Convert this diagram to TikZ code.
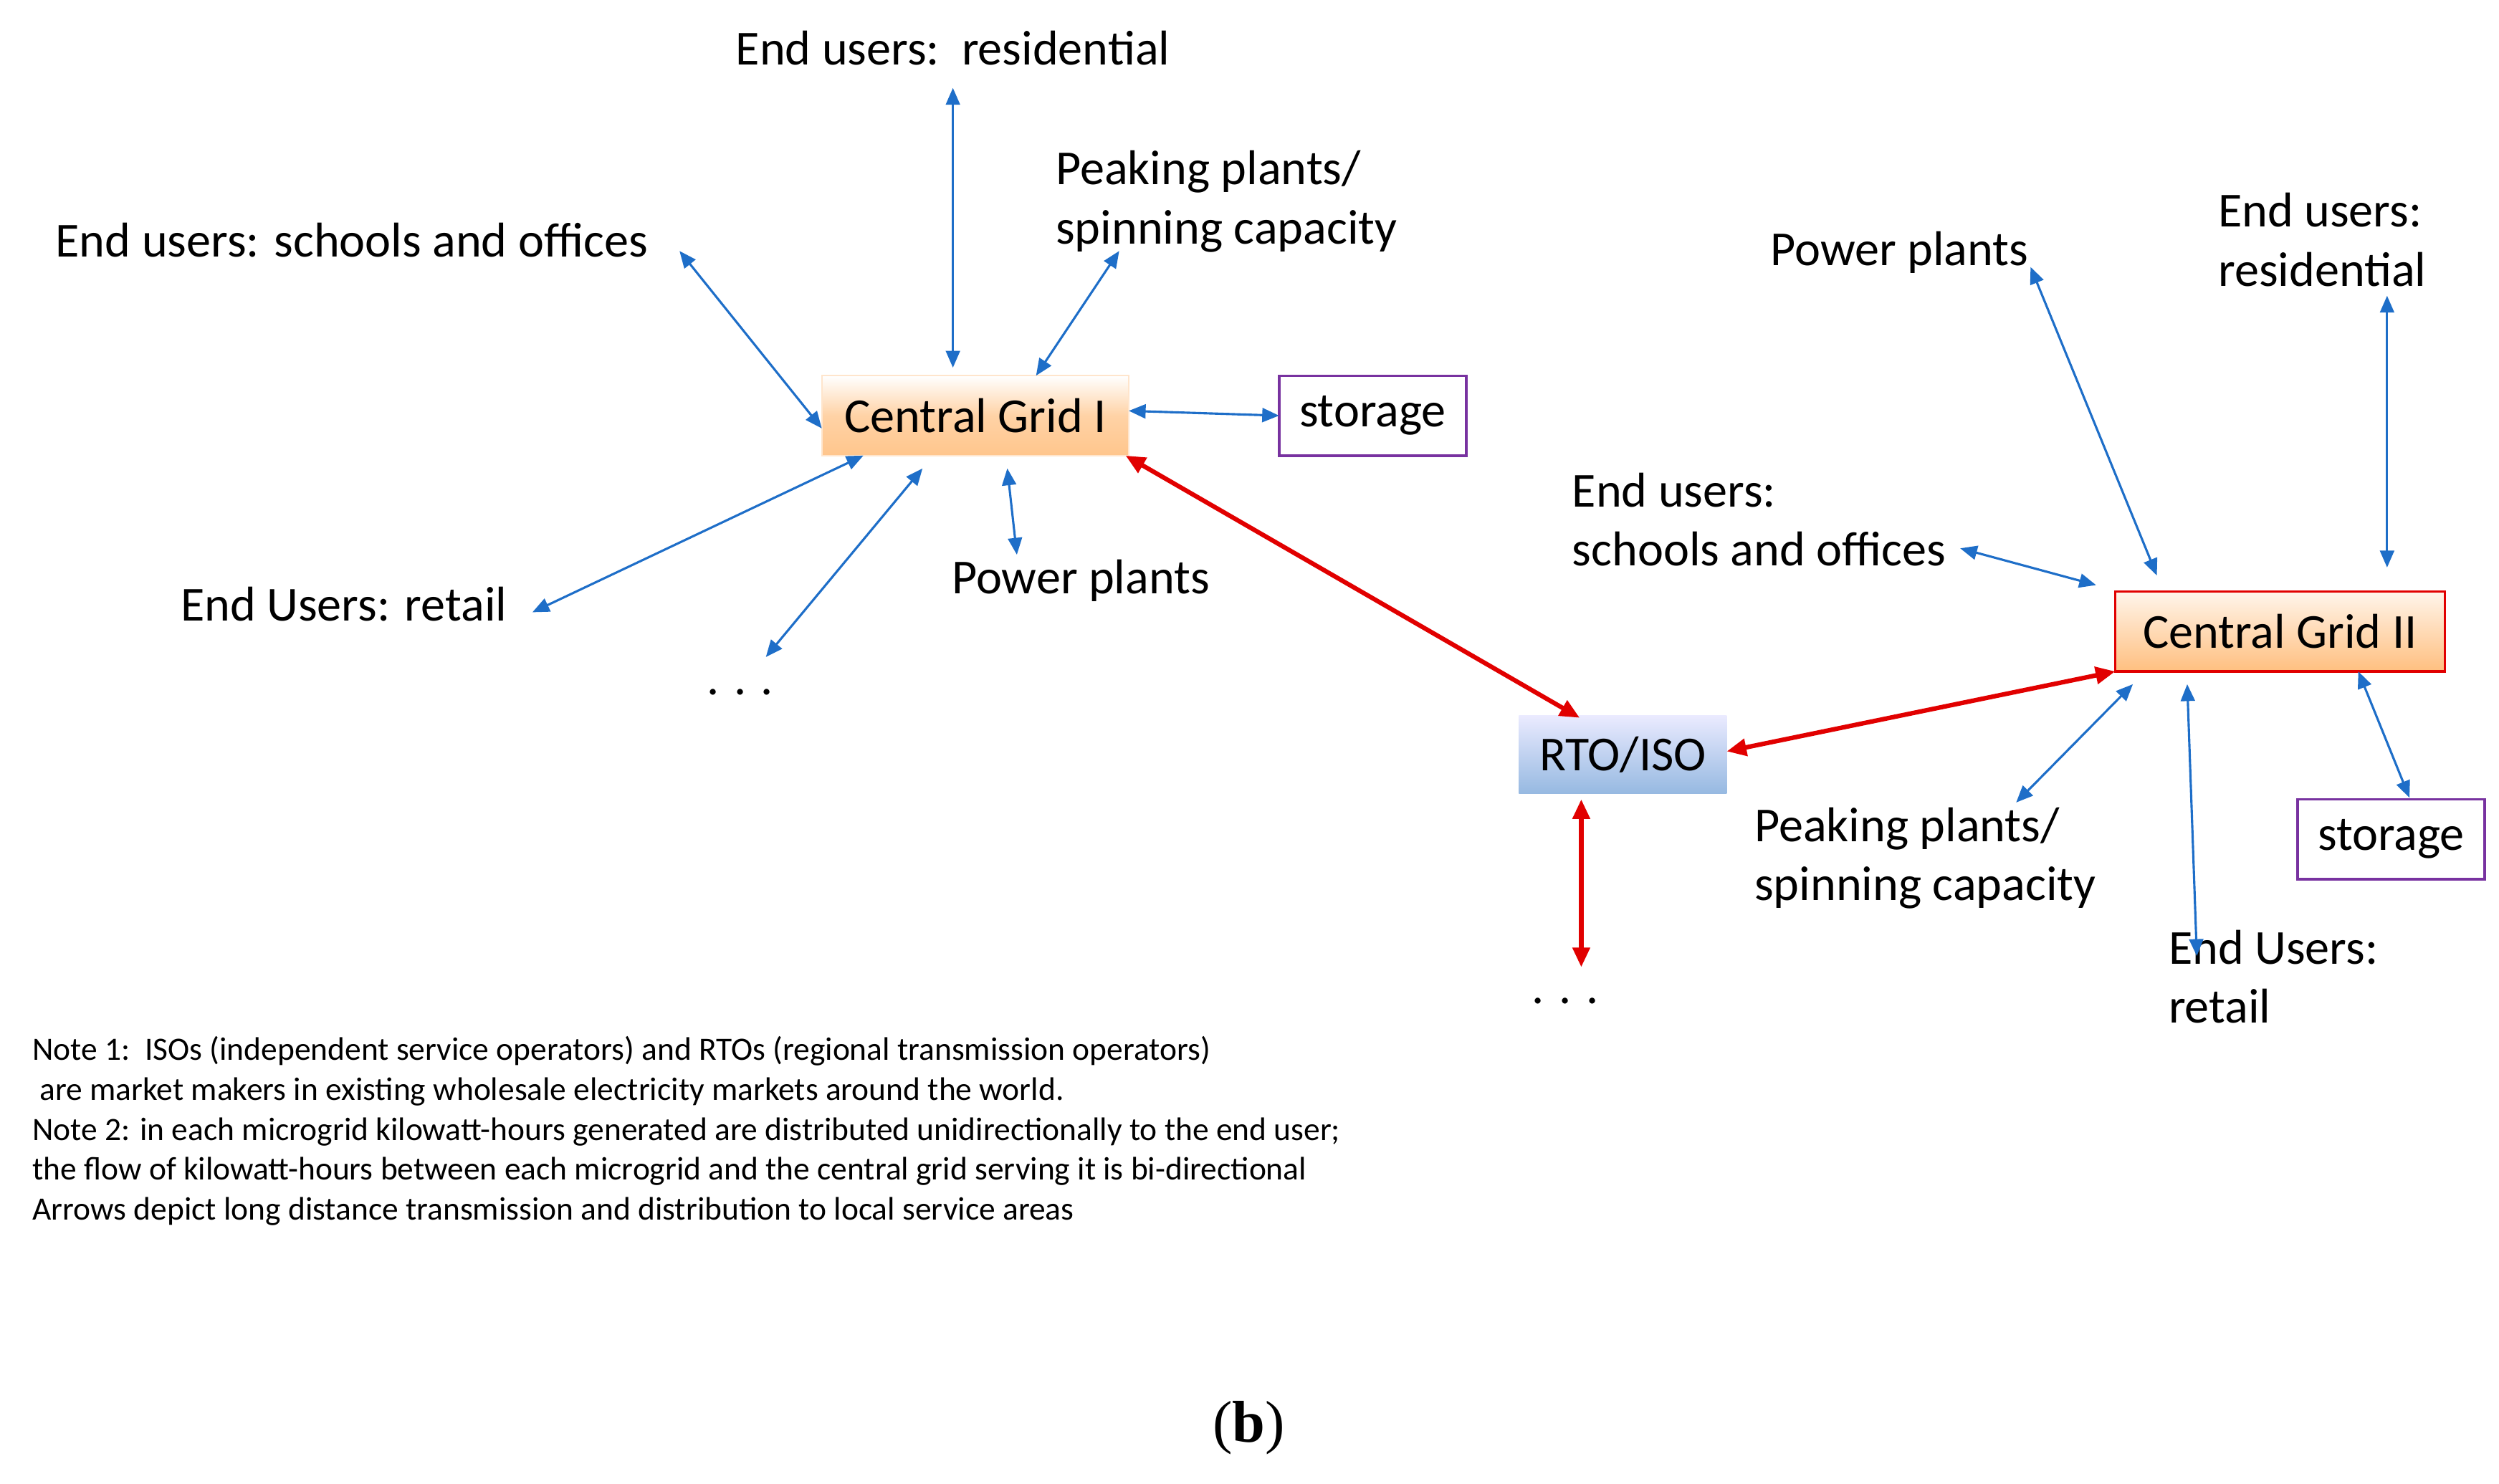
\documentclass[tikz,border=0pt]{standalone}
\usepackage{fontspec}
\setmainfont{Carlito}
\newfontfamily\capfont{Liberation Serif}
\usetikzlibrary{arrows.meta}
\definecolor{ablue}{RGB}{30,110,200}
\definecolor{ared}{RGB}{225,0,0}
\definecolor{purp}{RGB}{120,50,160}
\definecolor{rtob}{RGB}{150,185,225}
\begin{document}
\begin{tikzpicture}[x=0.02cm,y=-0.02cm,
  lbl/.style={font=\fontsize{17.4}{21}\selectfont,inner sep=0pt,align=left},
  note/.style={font=\fontsize{11.6}{14.2}\selectfont,inner sep=0pt,align=left,anchor=north west},
  ba/.style={draw=ablue,line width=0.8pt,{Triangle[length=6pt,width=5pt]}-{Triangle[length=6pt,width=5pt]}},
  ra/.style={draw=ared,line width=1.6pt,{Triangle[length=7pt,width=6pt]}-{Triangle[length=7pt,width=6pt]}},
  box/.style={inner sep=0pt,font=\fontsize{17.4}{21}\selectfont},
  stor/.style={box,draw=purp,line width=0.9pt}]
\useasboundingbox (0,0) rectangle (1563,928);
% boxes
\node[box,shade,top color=white,bottom color=orange!45!white,middle color=orange!35!white,draw=orange!20,minimum width=3.84cm,minimum height=1cm] (cg1) at (610,260) {Central Grid I};
\node[stor,minimum width=2.34cm,minimum height=1cm] (s1) at (858.5,260) {storage};
\node[box,shade,top color=orange!8!white,bottom color=orange!50!white,draw=ared,line width=0.8pt,minimum width=4.12cm,minimum height=1cm] (cg2) at (1426,395) {Central Grid II};
\node[stor,minimum width=2.34cm,minimum height=1cm] (s2) at (1495.5,525) {storage};
\node[box,shade,top color=blue!8!white,bottom color=rtob,minimum width=2.6cm,minimum height=0.98cm] (rto) at (1015,472) {RTO/ISO};
% labels left
\node[lbl] (l1) at (596,30) {End users:\ \ residential};
\node[lbl] (l2) at (220,150) {End users: schools and offices};
\node[lbl,anchor=west] (l3) at (660,126) {Peaking plants/\\spinning capacity};
\node[lbl] (l4) at (215,378) {End Users: retail};
\node[lbl] (l5) at (676,363) {Power plants};
\node[lbl] (l6) at (463,433) {. . .};
% labels right
\node[lbl] (r1) at (1188,158) {Power plants};
\node[lbl,anchor=west] (r2) at (1387,150) {End users:\\residential};
\node[lbl,anchor=west] (r3) at (983,325) {End users:\\schools and offices};
\node[lbl,anchor=west] (r4) at (1097,537) {Peaking plants/\\spinning capacity};
\node[lbl,anchor=west] (r5) at (1356,611) {End Users:\\retail};
\node[lbl] (r6) at (979,626) {. . .};
% coordinates
\coordinate (a1) at (596,55); \coordinate (a1e) at (596,230);
\coordinate (a2) at (425,157); \coordinate (a2e) at (514,268);
\coordinate (a3) at (700,157); \coordinate (a3e) at (648,235);
\coordinate (a4) at (706,257); \coordinate (a4e) at (800,260);
\coordinate (a5) at (540,285); \coordinate (a5e) at (333,383);
\coordinate (a6) at (577,293); \coordinate (a6e) at (479,411);
\coordinate (a7) at (630,293); \coordinate (a7e) at (636,347);
\coordinate (b1) at (704,285); \coordinate (b1e) at (988,449);
\coordinate (b2) at (1080,470); \coordinate (b2e) at (1323,420);
\coordinate (b3) at (989,500); \coordinate (b3e) at (989,605);
\coordinate (c1) at (1270,167); \coordinate (c1e) at (1349,360);
\coordinate (c2) at (1493,185); \coordinate (c2e) at (1493,355);
\coordinate (c3) at (1226,343); \coordinate (c3e) at (1311,366);
\coordinate (c4) at (1334,428); \coordinate (c4e) at (1261,502);
\coordinate (c5) at (1368,428); \coordinate (c5e) at (1374,598);
\coordinate (c6) at (1475,420); \coordinate (c6e) at (1507,499);
\foreach \p in {a1,a2,a3,a4,a5,a6,a7,c1,c2,c3,c4,c5,c6} \draw[ba] (\p) -- (\p e);
\foreach \p in {b1,b2,b3} \draw[ra] (\p) -- (\p e);
% notes
\node[note] (n) at (20,648) {Note 1:\ \ ISOs (independent service operators) and RTOs (regional transmission operators)\\
\ are market makers in existing wholesale electricity markets around the world.\\
Note 2: in each microgrid kilowatt-hours generated are distributed unidirectionally to the end user;\\
the flow of kilowatt-hours between each microgrid and the central grid serving it is bi-directional\\
Arrows depict long distance transmission and distribution to local service areas};
\node[font=\capfont\fontsize{21}{24}\selectfont,inner sep=0pt] (cap) at (781,893) {(\textbf{b})};
\end{tikzpicture}
\end{document}
